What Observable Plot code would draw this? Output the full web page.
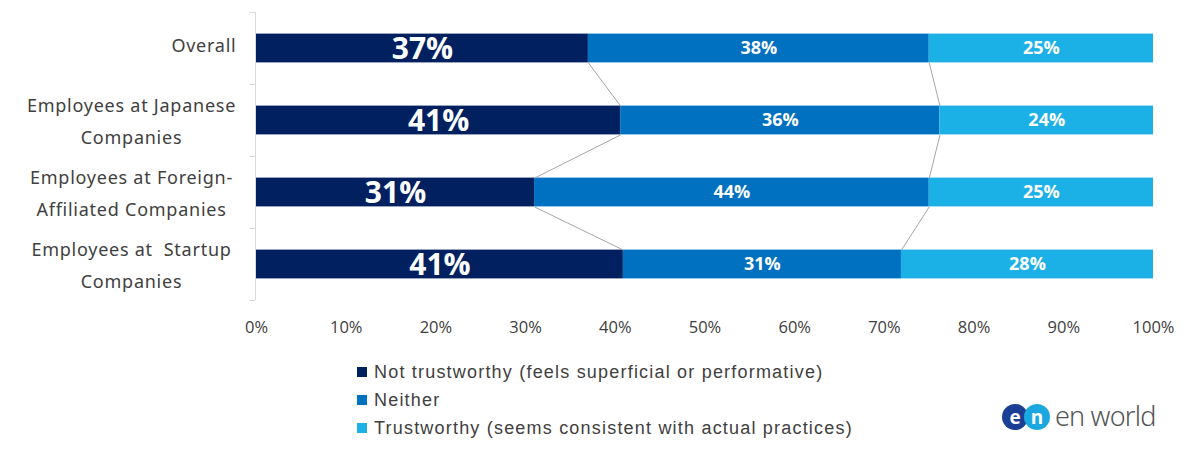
<!DOCTYPE html>
<html>
<head>
<meta charset="utf-8">
<script src="https://cdn.jsdelivr.net/npm/d3@7"></script>
<script src="https://cdn.jsdelivr.net/npm/@observablehq/plot@0.6"></script>
<style>
  html, body { margin: 0; padding: 0; background: #fff; }
  #wrap { position: relative; width: 1200px; height: 458px; }
  #legend { position: absolute; left: 357px; top: 358px; font-family: "Liberation Sans", "Noto Sans", sans-serif; font-size: 18px; letter-spacing: 1.2px; color: #404040; }
  .row { display: flex; align-items: center; height: 28px; }
  .sw { width: 10px; height: 10px; margin-right: 7px; }
  #logo { position: absolute; left: 1002px; top: 404px; display: flex; align-items: center; }
  .circ { width: 26px; height: 26px; border-radius: 50%; color: #fff; font-family: "Open Sans", sans-serif; font-weight: 700; font-size: 19px; display: flex; align-items: center; justify-content: center; line-height: 1; }
  .logotext { font-family: "Noto Sans", "Open Sans", sans-serif; font-weight: 300; font-size: 27px; color: #555; margin-left: 5px; letter-spacing: -0.8px; line-height: 1; margin-top: -3px; }
  .cat text { letter-spacing: 0.75px; }
</style>
</head>
<body>
<div id="wrap">
  <div id="chart"></div>
  <div id="legend"></div>
  <div id="logo">
    <div class="circ" style="background:#1b3f94;">e</div>
    <div class="circ" style="background:#1ba8e0; margin-left:-4px;">n</div>
    <div class="logotext">en world</div>
  </div>
</div>
<script>
const categories = [
  "Overall",
  "Employees at Japanese\nCompanies",
  "Employees at Foreign-\nAffiliated Companies",
  "Employees at  Startup\nCompanies"
];
const series = [
  "Not trustworthy (feels superficial or performative)",
  "Neither",
  "Trustworthy (seems consistent with actual practices)"
];
const colors = ["#002060", "#0070C0", "#1BB0E6"];
const notTrustworthy = [37.0, 40.6, 31.0, 40.9];
const neither = [38.0, 35.6, 44.0, 31.0];
const trustworthy = [25.0, 23.8, 25.0, 28.1];
const xTicks = [0, 10, 20, 30, 40, 50, 60, 70, 80, 90, 100];

const valuesBySeries = [notTrustworthy, neither, trustworthy];
const rows = [];
categories.forEach((c, i) => {
  let acc = 0;
  valuesBySeries.forEach((vals, s) => {
    const v = vals[i];
    rows.push({i, cat: c, s, series: series[s], value: v, x1: acc, x2: acc + v});
    acc += v;
  });
});

// connector lines between stacked boundaries of consecutive bars
const half = 0.2;
const links = [];
for (let s = 0; s < 2; s++) {
  for (let i = 0; i < categories.length - 1; i++) {
    const a = rows.find(r => r.i === i && r.s === s);
    const b = rows.find(r => r.i === i + 1 && r.s === s);
    links.push({x1: a.x2, y1: i + half, x2: b.x2, y2: i + 1 - half});
  }
}

const catRows = categories.map((c, i) => ({i, label: c, multi: c.includes("\n")}));
const bounds = d3.range(categories.length + 1).map(k => k - 0.5);
const catFont = "'Noto Sans', 'Open Sans', sans-serif";

const chart = Plot.plot({
  width: 1200,
  height: 345,
  marginLeft: 256,
  marginRight: 47,
  marginTop: 12,
  marginBottom: 45,
  style: {fontFamily: "'Open Sans', sans-serif", background: "#fff"},
  x: {domain: [0, 100], axis: null},
  y: {domain: [-0.5, categories.length - 0.5], reverse: true, axis: null},
  marks: [
    Plot.axisX(xTicks, {tickSize: 0, tickPadding: 21, tickFormat: d => d + "%", fontSize: 16.5, color: "#404040", fill: "#404040"}),
    Plot.ruleX([0], {y1: -0.5, y2: categories.length - 0.5, stroke: "#d9d9d9", strokeWidth: 1, dx: -1}),
    Plot.ruleY(bounds, {x1: -0.6, x2: 0, stroke: "#d9d9d9", strokeWidth: 1, dx: -1}),
    Plot.rect(rows, {x1: "x1", x2: "x2", y1: d => d.i - half, y2: d => d.i + half, fill: d => colors[d.s]}),
    Plot.link(links, {x1: "x1", y1: "y1", x2: "x2", y2: "y2", stroke: "#a6a6a6", strokeWidth: 1}),
    Plot.text(rows.filter(d => d.s === 0), {x: d => (d.x1 + d.x2) / 2, y: "i", text: d => Math.round(d.value) + "%", fill: "white", fontWeight: "bold", fontSize: 30, dy: 1}),
    Plot.text(rows.filter(d => d.s > 0), {x: d => (d.x1 + d.x2) / 2, y: "i", text: d => Math.round(d.value) + "%", fill: "white", fontWeight: "bold", fontSize: 18}),
    Plot.text(catRows.filter(d => !d.multi), {x: 0, y: "i", text: "label", textAnchor: "end", dx: -20, dy: -2, fontSize: 18, fill: "#404040", fontFamily: catFont, className: "cat"}),
    Plot.text(catRows.filter(d => d.multi), {x: 0, y: "i", text: "label", textAnchor: "middle", dx: -125, dy: -3, lineHeight: 1.78, fontSize: 18, fill: "#404040", fontFamily: catFont, className: "cat"})
  ]
});
document.getElementById("chart").appendChild(chart);

const legend = document.getElementById("legend");
series.forEach((s, k) => {
  const row = document.createElement("div");
  row.className = "row";
  const sw = document.createElement("div");
  sw.className = "sw";
  sw.style.background = colors[k];
  const t = document.createElement("span");
  t.textContent = s;
  row.appendChild(sw);
  row.appendChild(t);
  legend.appendChild(row);
});
</script>
</body>
</html>
